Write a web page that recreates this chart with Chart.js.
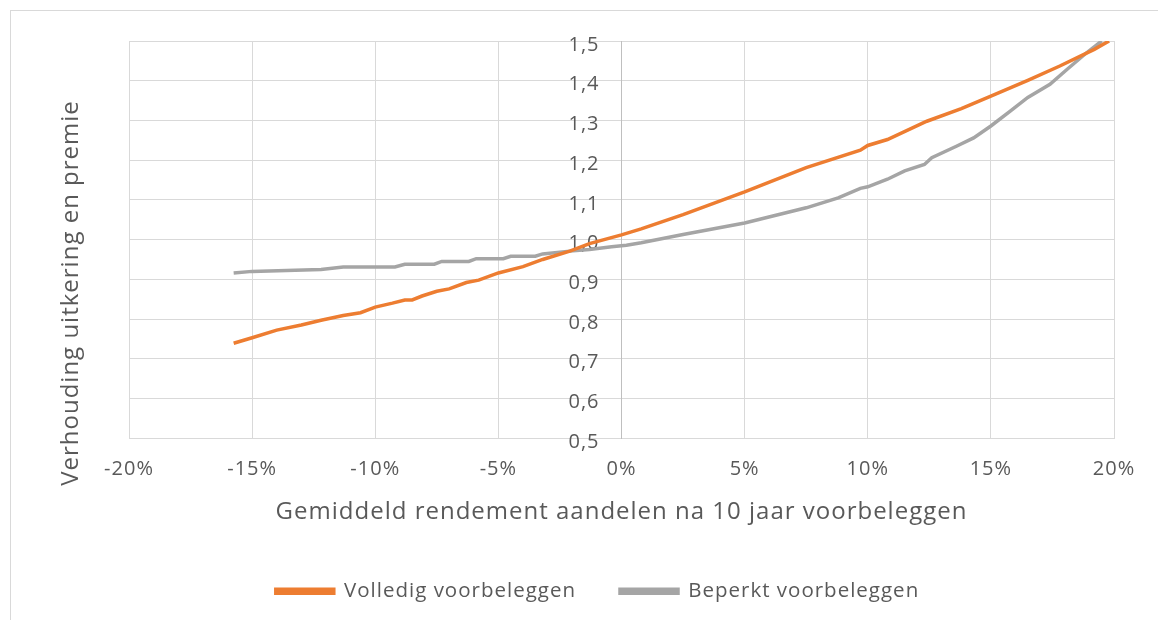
<!DOCTYPE html>
<html>
<head>
<meta charset="utf-8">
<script src="https://cdn.jsdelivr.net/npm/chart.js@4"></script>
<style>
  body { margin: 0; background: #fff; }
  #frame {
    position: absolute; left: 10px; top: 10px; width: 1148px; height: 610px;
    border-left: 1px solid #d9d9d9; border-top: 1px solid #d9d9d9;
  }
  #box { position: absolute; left: 1px; top: 1px; width: 1147px; height: 609px; }
</style>
</head>
<body>
<div id="frame"><div id="box"><canvas id="grafico"></canvas></div></div>
<script>
// rendement (%) en verhouding
let volledigX = [-15.75, -15, -14, -13, -12.2, -11.3, -10.6, -10, -9.3, -8.8, -8.5, -8.1, -7.5, -7, -6.3, -5.8, -5, -4, -3.2, -2.1, -1.3, 0, 0.8, 2.5, 5, 7.5, 9.7, 10, 10.8, 12.4, 13.8, 15, 16.5, 17.8, 19.2, 19.8];
let volledigY = [0.739, 0.753, 0.772, 0.785, 0.797, 0.809, 0.816, 0.830, 0.840, 0.848, 0.848, 0.858, 0.870, 0.876, 0.892, 0.898, 0.916, 0.932, 0.950, 0.971, 0.990, 1.012, 1.027, 1.063, 1.120, 1.181, 1.225, 1.237, 1.252, 1.298, 1.330, 1.361, 1.401, 1.437, 1.479, 1.500];

let beperktX = [-15.75, -15, -12.2, -11.3, -9.2, -8.8, -7.6, -7.3, -6.2, -5.9, -4.8, -4.5, -3.5, -3.2, -2.1, -1.3, -0.4, 0.2, 0.8, 2.5, 5, 7.5, 8.8, 9.7, 10, 10.8, 11.5, 12.3, 12.6, 13.6, 14.3, 15, 15.8, 16.5, 17.4, 18.1, 18.9, 19.5];
let beperktY = [0.916, 0.920, 0.925, 0.931, 0.931, 0.938, 0.938, 0.945, 0.945, 0.952, 0.952, 0.958, 0.958, 0.964, 0.971, 0.975, 0.982, 0.986, 0.992, 1.013, 1.042, 1.080, 1.105, 1.129, 1.133, 1.152, 1.173, 1.189, 1.206, 1.235, 1.256, 1.286, 1.324, 1.358, 1.391, 1.429, 1.471, 1.500];

let reeksen = ['Volledig voorbeleggen', 'Beperkt voorbeleggen'];
let xTicks = [-20, -15, -10, -5, 0, 5, 10, 15, 20];
let yTicks = [0.5, 0.6, 0.7, 0.8, 0.9, 1.0, 1.1, 1.2, 1.3, 1.4, 1.5];

const tekst = '#595959';
const fontNaam = "'Open Sans', sans-serif";

function punten(xs, ys) {
    return xs.map((x, i) => ({ x: x, y: ys[i] }));
}

// wat ruimere letters, zoals in het origineel
const spatie = {
    id: 'spatie',
    beforeUpdate(chart) { chart.ctx.letterSpacing = '1px'; },
    beforeDraw(chart) { chart.ctx.letterSpacing = '1px'; },
    afterLayout(chart) {
        // legenda staat in het origineel iets links van het midden
        chart.legend.left -= 24;
        chart.legend.right -= 24;
    }
};

// y-as titel links, los van de as die op 0% staat
const yTitel = {
    id: 'yTitel',
    afterDraw(chart) {
        let ctx = chart.ctx;
        ctx.save();
        ctx.letterSpacing = '1px';
        ctx.translate(59, 281);
        ctx.rotate(-Math.PI / 2);
        ctx.font = "24px " + fontNaam;
        ctx.fillStyle = tekst;
        ctx.textAlign = 'center';
        ctx.textBaseline = 'middle';
        ctx.fillText('Verhouding uitkering en premie', 0, 0);
        ctx.restore();
    }
};

const data = {
    datasets: [{
            label: reeksen[0],
            data: punten(volledigX, volledigY),
            borderColor: '#ED7D31',
            backgroundColor: '#ED7D31',
            borderWidth: 3.5,
            pointRadius: 0,
            showLine: true,
            tension: 0
        },
        {
            label: reeksen[1],
            data: punten(beperktX, beperktY),
            borderColor: '#A5A5A5',
            backgroundColor: '#A5A5A5',
            borderWidth: 3.5,
            pointRadius: 0,
            showLine: true,
            tension: 0
        }
    ]
};

const config = {
    type: 'scatter',
    data: data,
    plugins: [spatie, yTitel],
    options: {
        responsive: true,
        maintainAspectRatio: false,
        animation: false,
        layout: { padding: { left: 117, right: 45, top: 29, bottom: 9.5 } },
        plugins: {
            tooltip: { enabled: false },
            legend: {
                position: 'bottom',
                labels: {
                    color: tekst,
                    font: { family: fontNaam, size: 20.5 },
                    boxWidth: 58,
                    boxHeight: 4,
                    padding: 44
                }
            }
        },
        scales: {
            x: {
                type: 'linear',
                min: -20,
                max: 20,
                afterBuildTicks: (axis) => { axis.ticks = xTicks.map(v => ({ value: v })); },
                grid: { color: '#d9d9d9', drawTicks: false },
                border: { color: '#d9d9d9' },
                ticks: {
                    color: tekst,
                    font: { family: fontNaam, size: 20 },
                    padding: 19,
                    maxRotation: 0,
                    callback: (v) => v + '%'
                },
                title: {
                    display: true,
                    text: 'Gemiddeld rendement aandelen na 10 jaar voorbeleggen',
                    color: tekst,
                    font: { family: fontNaam, size: 24 },
                    padding: { top: -2, bottom: 10 }
                }
            },
            y: {
                type: 'linear',
                position: { x: 0 },
                min: 0.5,
                max: 1.5,
                afterBuildTicks: (axis) => { axis.ticks = yTicks.map(v => ({ value: v })); },
                grid: { color: '#d9d9d9', drawTicks: false },
                border: { color: '#bfbfbf' },
                ticks: {
                    color: tekst,
                    font: { family: fontNaam, size: 20 },
                    labelOffset: 4,
                    callback: (v) => v.toFixed(1).replace('.', ',') + '\u2002\u2002'
                }
            }
        }
    }
};

const myChart = new Chart(document.getElementById('grafico'), config);
</script>
</body>
</html>
